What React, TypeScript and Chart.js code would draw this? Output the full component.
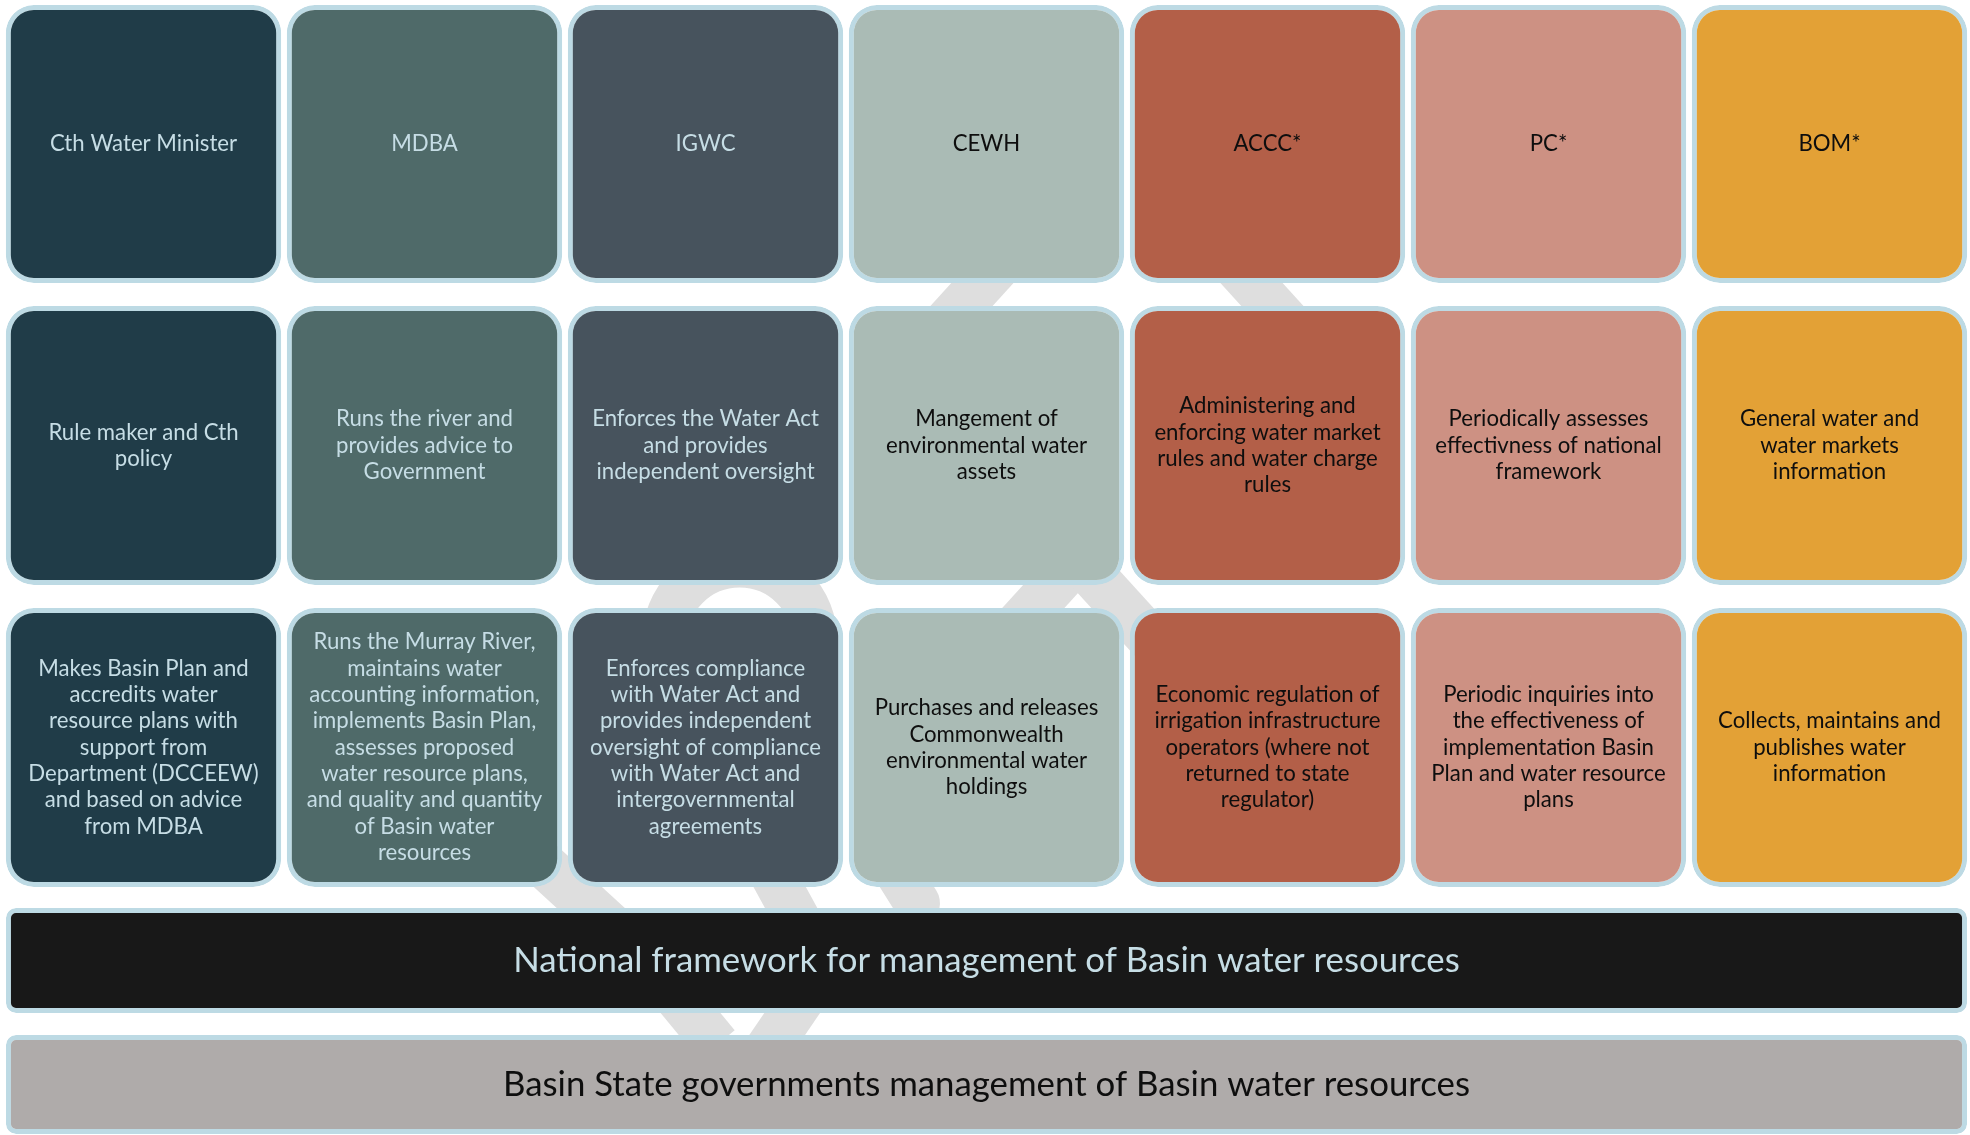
import React, { useEffect, useRef } from "react";
import { Chart, registerables } from "chart.js";

Chart.register(...registerables);

// ---- content ----
const AGENCIES = ["Cth Water Minister", "MDBA", "IGWC", "CEWH", "ACCC*", "PC*", "BOM*"];

const ROLES = [
  "Rule maker and Cth\npolicy",
  "Runs the river and\nprovides advice to\nGovernment",
  "Enforces the Water Act\nand provides\nindependent oversight",
  "Mangement of\nenvironmental water\nassets",
  "Administering and\nenforcing water market\nrules and water charge\nrules",
  "Periodically assesses\neffectivness of national\nframework",
  "General water and\nwater markets\ninformation",
];

const FUNCTIONS = [
  "Makes Basin Plan and\naccredits water\nresource plans with\nsupport from\nDepartment (DCCEEW)\nand based on advice\nfrom MDBA",
  "Runs the Murray River,\nmaintains water\naccounting information,\nimplements Basin Plan,\nassesses proposed\nwater resource plans,\nand quality and quantity\nof Basin water\nresources",
  "Enforces compliance\nwith Water Act and\nprovides independent\noversight of compliance\nwith Water Act and\nintergovernmental\nagreements",
  "Purchases and releases\nCommonwealth\nenvironmental water\nholdings",
  "Economic regulation of\nirrigation infrastructure\noperators (where not\nreturned to state\nregulator)",
  "Periodic inquiries into\nthe effectiveness of\nimplementation Basin\nPlan and water resource\nplans",
  "Collects, maintains and\npublishes water\ninformation",
];

const FRAMEWORK = ["National framework for management of Basin water resources"];
const STATE = ["Basin State governments management of Basin water resources"];

// ---- styles / layout (design units = page pixels) ----
const FILLS = ["#203C48", "#4F6A69", "#47535D", "#AABBB5", "#B35F48", "#CD9183", "#E3A136"];
const LIGHT_TEXT = "#C6DDE5";
const DARK_TEXT = "#0E0E0E";
const CELL_TEXT = [LIGHT_TEXT, LIGHT_TEXT, LIGHT_TEXT, DARK_TEXT, DARK_TEXT, DARK_TEXT, DARK_TEXT];
const BORDER = "#BDDAE4";
const STRIPE = "#DEDEDE";
const ROW_SPANS: [number, number][] = [[5, 283], [306, 585], [608, 887]];
const BAND_SPANS: [number, number][] = [[908, 1013], [1035, 1134]];
const CELL_FONT = "22.2px Lato";
const CELL_LH = 26.3;
const BAND_FONT = "34.8px Lato";

// decorative background stripes (design px): [x1, y1, x2, y2, roundCap]
const STRIPES: [number, number, number, number, boolean][] = [
  [1060, 205, 880, 385, false],
  [1200, 205, 1380, 385, false],
  [1087, 559, 987, 659, false],
  [1087, 559, 1187, 659, false],
  [490, 857, 586, 937, false],
  [735, 847, 795, 947, false],
  [870, 845, 910, 903, true],
  [640, 990, 690, 1045, false],
  [790, 990, 745, 1050, false],
];
const ARCS: [number, number, number][] = [[715, 640, 75]];

const stripePlugin = {
  id: "stripes",
  beforeDatasetsDraw(chart: any) {
    const ctx = chart.ctx;
    const xs = chart.scales.xd;
    const ys = chart.scales.y;
    ctx.save();
    ctx.strokeStyle = STRIPE;
    ctx.lineWidth = 46;
    STRIPES.forEach(([x1, y1, x2, y2, round]) => {
      ctx.lineCap = round ? "round" : "butt";
      ctx.beginPath();
      ctx.moveTo(xs.getPixelForValue(x1), ys.getPixelForValue(y1));
      ctx.lineTo(xs.getPixelForValue(x2), ys.getPixelForValue(y2));
      ctx.stroke();
    });
    ctx.lineCap = "butt";
    ctx.lineWidth = 45;
    ARCS.forEach(([cx, cy, r]) => {
      ctx.beginPath();
      ctx.arc(xs.getPixelForValue(cx), ys.getPixelForValue(cy), r, Math.PI, 2 * Math.PI);
      ctx.stroke();
    });
    ctx.restore();
  },
};

const textPlugin = {
  id: "cellText",
  afterDatasetsDraw(chart: any) {
    const ctx = chart.ctx;
    chart.data.datasets.forEach((ds: any, di: number) => {
      const meta = chart.getDatasetMeta(di);
      meta.data.forEach((el: any, i: number) => {
        const { x, y, base } = el.getProps(["x", "y", "base"], true);
        const cy = (y + base) / 2;
        const lines = String(ds.texts[i]).split("\n");
        ctx.save();
        ctx.font = ds.font;
        ctx.fillStyle = ds.textColors[i];
        ctx.textAlign = "center";
        ctx.textBaseline = "middle";
        lines.forEach((ln: string, k: number) => {
          ctx.fillText(ln, x, cy + (k - (lines.length - 1) / 2) * ds.lineHeight);
        });
        ctx.restore();
      });
    });
  },
};

export default function App() {
  const ref = useRef<HTMLCanvasElement | null>(null);

  useEffect(() => {
    document.body.style.margin = "0";
    if (!ref.current) return;

    const cellDataset = (texts: string[], span: [number, number]) => ({
      label: texts[0],
      data: AGENCIES.map(() => span),
      backgroundColor: FILLS,
      borderColor: BORDER,
      borderWidth: 5,
      borderSkipped: false,
      borderRadius: { topLeft: 28, topRight: 28, bottomLeft: 28, bottomRight: 28 },
      grouped: false,
      categoryPercentage: 1,
      barPercentage: 0.98,
      xAxisID: "x",
      texts,
      textColors: CELL_TEXT,
      font: CELL_FONT,
      lineHeight: CELL_LH,
    });

    const bandDataset = (texts: string[], span: [number, number], fill: string, color: string) => ({
      label: texts[0],
      data: [span],
      backgroundColor: fill,
      borderColor: BORDER,
      borderWidth: 5,
      borderSkipped: false,
      borderRadius: { topLeft: 10, topRight: 10, bottomLeft: 10, bottomRight: 10 },
      grouped: false,
      categoryPercentage: 1,
      barPercentage: 0.997,
      xAxisID: "x2",
      texts,
      textColors: [color],
      font: BAND_FONT,
      lineHeight: 40,
    });

    const chart = new Chart(ref.current, {
      type: "bar",
      data: {
        labels: AGENCIES,
        datasets: [
          cellDataset(AGENCIES, ROW_SPANS[0]),
          cellDataset(ROLES, ROW_SPANS[1]),
          cellDataset(FUNCTIONS, ROW_SPANS[2]),
          bandDataset(FRAMEWORK, BAND_SPANS[0], "#181818", LIGHT_TEXT),
          bandDataset(STATE, BAND_SPANS[1], "#AFABAA", DARK_TEXT),
        ] as any,
      },
      options: {
        animation: false,
        responsive: false,
        devicePixelRatio: 1,
        events: [],
        layout: { padding: { left: 3, right: 0, top: 0, bottom: 0 } },
        plugins: { legend: { display: false }, tooltip: { enabled: false }, title: { display: false } },
        scales: {
          x: { type: "category", display: false, offset: true, grid: { display: false } },
          x2: { type: "category", labels: ["band"], display: false, offset: true, grid: { display: false } },
          xd: { type: "linear", min: 3, max: 1970, display: false, axis: "x" },
          y: { type: "linear", min: 0, max: 1135, reverse: true, display: false },
        },
      } as any,
      plugins: [stripePlugin, textPlugin],
    });

    return () => chart.destroy();
  }, []);

  return <canvas ref={ref} width={1970} height={1135} style={{ display: "block" }} />;
}
